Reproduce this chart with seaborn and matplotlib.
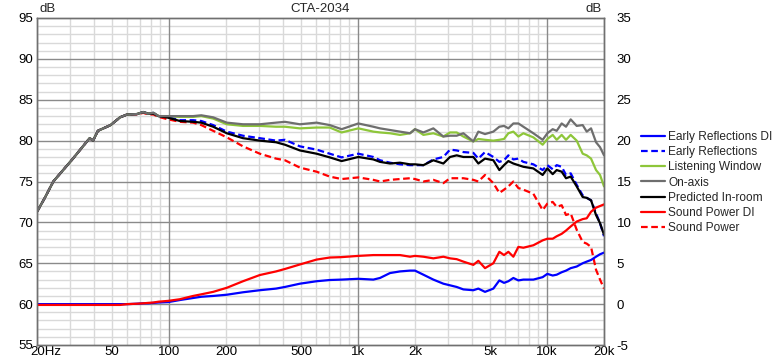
import matplotlib
matplotlib.use("Agg")
import matplotlib.pyplot as plt
import matplotlib.transforms as mtransforms
from matplotlib.ticker import FixedLocator, NullFormatter, MultipleLocator, NullLocator
import seaborn as sns
import pandas as pd

# ---------------- data ----------------
freq = [20, 22, 24.4, 27.5, 31, 35, 38, 39.6, 42, 49, 55, 60, 67.6, 73, 77.4, 82.6,
        88, 99, 114, 134, 148, 171, 202, 246, 302, 368, 410, 492, 603, 708, 818, 1003, 1204,
        1306, 1475, 1666, 1882, 2000, 2215, 2501, 2825, 3064, 3323, 3605, 4071, 4327, 4693,
        5195, 5589, 5916, 6237, 6629, 7046, 7488, 8458, 9474, 10030, 10704, 11239, 11943,
        12591, 13328, 14340, 15429, 16203, 17079, 18151, 19055, 20000]

on_axis = [71.3, 73.0, 75.0, 76.4, 77.8, 79.3, 80.3, 80.0, 81.2, 81.9, 82.85, 83.2, 83.25, 83.5, 83.3, 83.4,
           83.0, 83.0, 83.0, 83.0, 83.1, 82.85, 82.2, 82.0, 82.0, 82.2, 82.3, 82.0, 82.2, 81.9, 81.4, 82.1, 81.7,
           81.5, 81.3, 81.1, 80.9, 81.4, 81.0, 81.5, 80.5, 80.6, 80.6, 80.9, 79.9, 81.1, 80.8,
           81.1, 81.7, 81.8, 81.5, 82.1, 82.1, 81.7, 80.9, 80.1, 80.9, 81.4, 81.2, 82.1,
           81.7, 82.6, 81.8, 81.9, 81.1, 81.5, 79.8, 79.2, 78.2]

listening_window = [71.3, 73.0, 75.0, 76.4, 77.8, 79.3, 80.3, 80.0, 81.2, 81.9, 82.85, 83.2, 83.25, 83.5, 83.3, 83.4,
                    83.0, 83.0, 82.9, 82.9, 83.0, 82.7, 82.0, 81.8, 81.8, 81.7, 81.7, 81.5, 81.6, 81.6, 81.0, 81.5, 81.1,
                    81.0, 80.9, 80.7, 80.9, 81.4, 80.7, 80.9, 80.5, 81.0, 81.0, 80.5, 79.9, 80.2, 80.1,
                    80.0, 80.1, 80.2, 80.9, 81.1, 80.5, 80.9, 80.4, 79.5, 80.2, 80.7, 80.1, 80.7,
                    80.1, 80.7, 80.0, 78.4, 78.2, 77.8, 76.4, 75.8, 74.4]

early_reflections = [71.3, 73.0, 75.0, 76.4, 77.8, 79.3, 80.3, 80.0, 81.2, 81.9, 82.85, 83.2, 83.25, 83.5, 83.3, 83.4,
                     83.0, 82.9, 82.5, 82.5, 82.4, 81.9, 81.1, 80.6, 80.3, 80.0, 80.1, 79.3, 78.9, 78.4, 77.95, 78.4, 78.0,
                     77.6, 77.3, 77.1, 77.0, 77.0, 77.0, 77.7, 78.0, 78.9, 78.8, 78.6, 78.5, 77.8, 78.6,
                     78.0, 77.4, 77.6, 78.2, 77.7, 77.8, 77.4, 77.1, 76.4, 77.0, 76.5, 77.0, 76.8,
                     75.8, 76.0, 74.6, 73.3, 73.0, 72.7, 71.1, 69.9, 68.3]

predicted_in_room = [71.3, 73.0, 75.0, 76.4, 77.8, 79.3, 80.3, 80.0, 81.2, 81.9, 82.85, 83.2, 83.25, 83.5, 83.3, 83.3,
                     83.0, 82.8, 82.4, 82.3, 82.2, 81.7, 80.9, 80.3, 80.0, 79.8, 79.5, 78.8, 78.4, 77.95, 77.5, 78.0, 77.7,
                     77.4, 77.2, 77.3, 77.1, 77.1, 77.0, 77.6, 77.2, 78.0, 78.2, 78.0, 78.0, 77.2, 77.8,
                     77.6, 76.4, 77.0, 77.5, 77.2, 77.0, 76.8, 76.6, 75.8, 76.6, 75.9, 76.4, 76.2,
                     75.4, 75.6, 74.4, 73.1, 73.0, 72.7, 70.9, 69.9, 68.5]

sound_power = [71.3, 73.0, 75.0, 76.4, 77.8, 79.3, 80.3, 80.0, 81.2, 81.9, 82.85, 83.2, 83.2, 83.4, 83.2, 83.2,
               82.9, 82.6, 82.3, 82.2, 81.9, 81.2, 80.4, 79.3, 78.4, 77.8, 77.6, 76.7, 76.2, 75.6, 75.3, 75.5, 75.2,
               75.0, 75.2, 75.3, 75.4, 75.3, 75.0, 75.2, 74.8, 75.4, 75.4, 75.4, 75.2, 75.0, 75.8,
               74.8, 73.6, 74.0, 74.4, 75.0, 74.2, 74.0, 73.5, 71.5, 72.3, 72.5, 71.9, 72.1,
               70.9, 71.1, 69.1, 67.6, 67.4, 67.0, 64.2, 63.0, 61.9]

# directivity indices, right axis (dB)
sound_power_di = [-0.1, -0.1, -0.1, -0.1, -0.1, -0.1, -0.1, -0.1, -0.1, -0.1, -0.1, 0.0, 0.05, 0.1, 0.15, 0.2,
                  0.3, 0.4, 0.6, 1.0, 1.2, 1.5, 2.0, 2.8, 3.56, 4.0, 4.3, 4.85, 5.45, 5.7, 5.75, 5.9, 6.0,
                  6.0, 6.0, 6.0, 5.8, 5.9, 5.8, 5.6, 5.8, 5.6, 5.5, 5.2, 4.8, 5.3, 4.4,
                  5.0, 6.4, 6.0, 6.4, 5.8, 7.0, 6.9, 7.2, 7.8, 8.0, 8.0, 8.3, 8.6,
                  9.0, 9.5, 10.1, 10.4, 10.5, 11.3, 11.8, 12.0, 12.2]

early_reflections_di = [0.0, 0.0, 0.0, 0.0, 0.0, 0.0, 0.0, 0.0, 0.0, 0.0, 0.0, 0.0, 0.05, 0.1, 0.1, 0.15,
                        0.2, 0.25, 0.5, 0.75, 0.9, 1.0, 1.15, 1.45, 1.7, 1.9, 2.1, 2.5, 2.8, 2.95, 3.0, 3.1, 3.0,
                        3.2, 3.8, 4.0, 4.1, 4.1, 3.6, 3.0, 2.5, 2.3, 2.1, 1.8, 1.7, 1.9, 1.5,
                        1.9, 2.9, 2.6, 2.8, 3.2, 2.9, 3.0, 3.0, 3.3, 3.7, 3.5, 3.6, 3.9,
                        4.1, 4.4, 4.6, 5.0, 5.2, 5.4, 5.8, 6.1, 6.3]

series = {
    "On-axis": on_axis, "Listening Window": listening_window,
    "Early Reflections": early_reflections, "Predicted In-room": predicted_in_room,
    "Sound Power": sound_power, "Sound Power DI": sound_power_di,
    "Early Reflections DI": early_reflections_di,
}
for k, v in series.items():
    assert len(v) == len(freq), (k, len(v))

# ---------------- style ----------------
sns.set_style("white")
plt.rcParams["font.family"] = ["Liberation Sans", "DejaVu Sans"]
plt.rcParams["axes.unicode_minus"] = False

fig = plt.figure(figsize=(7.8, 3.6), dpi=100)
L, R, B, T = 37 / 780, 604 / 780, 1 - 345 / 360, 1 - 18 / 360
ax = fig.add_axes([L, B, R - L, T - B])
ax2 = ax.twinx()

BLUE, GREEN, GREY, RED = "#0000ff", "#8ec63a", "#6e6e6e", "#ff0000"
LW = 1.6
dash = (0, (3.0, 1.6))

handles = {}

def draw(axis, name, color, ls):
    df = pd.DataFrame({"f": freq, "v": series[name]})
    sns.lineplot(data=df, x="f", y="v", ax=axis, color=color, linewidth=LW,
                 linestyle=ls, legend=False, sort=False)
    line = axis.get_lines()[-1]
    line.set_solid_joinstyle("round")
    handles[name] = line

draw(ax2, "Early Reflections DI", BLUE, "-")
draw(ax2, "Sound Power DI", RED, "-")
draw(ax, "Sound Power", RED, dash)
draw(ax, "Early Reflections", BLUE, dash)
draw(ax, "Listening Window", GREEN, "-")
draw(ax, "Predicted In-room", "black", "-")
draw(ax, "On-axis", GREY, "-")

# axes scales
for a in (ax, ax2):
    a.set_xscale("log")
    a.set_xlim(20, 20000)
    a.set_xlabel("")
    a.set_ylabel("")
ax.set_ylim(55, 95)
ax2.set_ylim(-5, 35)

minor_x = [m * 10 ** e for e in range(1, 5) for m in range(2, 10) if 20 <= m * 10 ** e <= 20000]
ax.yaxis.set_major_locator(MultipleLocator(5))
ax.yaxis.set_minor_locator(MultipleLocator(1))
ax2.grid(False)
ax2.yaxis.set_major_locator(MultipleLocator(5))
ax2.xaxis.set_major_locator(NullLocator())
ax2.xaxis.set_minor_locator(NullLocator())

for a in (ax, ax2):
    for s in a.spines.values():
        s.set_color("#707070")
        s.set_linewidth(1.0)

FS = 9.5
ax.tick_params(axis="both", which="both", length=0, labelsize=FS, colors="black")
ax2.tick_params(axis="both", which="both", length=0, labelsize=FS, colors="black")
ax.tick_params(axis="y", pad=3)
ax2.tick_params(axis="y", pad=9)
ax.set_yticks([55, 60, 65, 70, 75, 80, 85, 90, 95])
ax.set_yticklabels(["55", "60", "65", "70", "75", "80", "85", "90", "95"])
ax2.set_yticks([-5, 0, 5, 10, 15, 20, 25, 30, 35])
ax2.set_yticklabels(["-5", "0", "5", "10", "15", "20", "25", "30", "35"])
for t in ax2.get_yticklabels():
    t.set_ha("left")

# x tick labels
xticks = [20, 50, 100, 200, 500, 1000, 2000, 5000, 10000, 20000]
xlabels = ["20Hz", "50", "100", "200", "500", "1k", "2k", "5k", "10k", "20k"]
ax.set_xticks(xticks)
ax.set_xticklabels(xlabels)
ax.tick_params(axis="x", pad=1)
lbls = ax.get_xticklabels()
lbls[0].set_transform(lbls[0].get_transform() +
                      mtransforms.ScaledTranslation(9 / 100, 0, fig.dpi_scale_trans))
ax.xaxis.set_minor_locator(FixedLocator(minor_x))
ax.xaxis.set_minor_formatter(NullFormatter())

# grid
ax.grid(False)
for v in minor_x:
    if v not in (100, 1000, 10000):
        ax.axvline(v, color="#d9d9d9", linewidth=1.0, zorder=0)
for v in (100, 1000, 10000):
    ax.axvline(v, color="#8a8a8a", linewidth=1.0, zorder=0.5)
for v in range(56, 95):
    ax.axhline(v, color="#8a8a8a" if v % 5 == 0 else "#d9d9d9", linewidth=1.0,
               zorder=0.5 if v % 5 == 0 else 0)

# titles / unit labels
fig.text((L + R) / 2, 1 - 9 / 360, "CTA-2034", ha="center", va="center", fontsize=FS)
fig.text(L + 2 / 780, 1 - 9 / 360, "dB", ha="left", va="center", fontsize=FS)
fig.text(R - 2 / 780, 1 - 9 / 360, "dB", ha="right", va="center", fontsize=FS)

order = ["Early Reflections DI", "Early Reflections", "Listening Window", "On-axis",
         "Predicted In-room", "Sound Power DI", "Sound Power"]
fig.legend([handles[n] for n in order], order, loc="upper left",
           bbox_to_anchor=(641 / 780, 1 - 131 / 360), frameon=False, fontsize=8.6,
           handlelength=2.0, handletextpad=0.3, labelspacing=0.27, borderaxespad=0,
           borderpad=0)

fig.savefig("out.png", dpi=100, facecolor="white")
